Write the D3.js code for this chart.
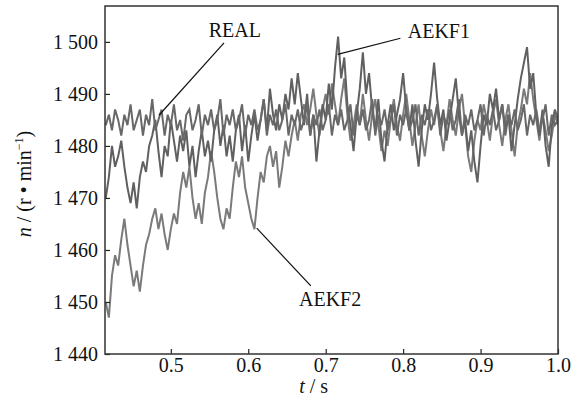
<!DOCTYPE html>
<html>
<head>
<meta charset="utf-8">
<script src="https://cdn.jsdelivr.net/npm/d3@7"></script>
<style>
body { margin: 0; background: #fff; }
text { font-family: "Liberation Serif", "Times New Roman", serif; }
</style>
</head>
<body>
<svg id="chart"></svg>
<script>
// sampling: t from 0.416 to 1.0, every 0.004 s
var tStart = 0.416, tStep = 0.004;

var real = [
	1484, 1486, 1483, 1487, 1485, 1482, 1486, 1484, 1488, 1483,
	1485, 1487, 1482, 1486, 1484, 1489, 1483, 1485, 1487, 1482,
	1486, 1484, 1488, 1483, 1485, 1481, 1486, 1487, 1483, 1485,
	1488, 1482, 1486, 1484, 1487, 1483, 1485, 1489, 1482, 1486,
	1484, 1487, 1483, 1485, 1488, 1482, 1486, 1484, 1487, 1483,
	1485, 1489, 1482, 1486, 1484, 1487, 1483, 1485, 1488, 1482,
	1486, 1484, 1487, 1483, 1485, 1488, 1482, 1486, 1484, 1487,
	1483, 1485, 1488, 1482, 1486, 1484, 1487, 1483, 1485, 1488,
	1482, 1486, 1484, 1487, 1483, 1485, 1489, 1482, 1486, 1484,
	1487, 1483, 1485, 1488, 1482, 1486, 1484, 1487, 1483, 1485,
	1488, 1482, 1486, 1484, 1487, 1483, 1485, 1488, 1482, 1486,
	1484, 1487, 1483, 1485, 1489, 1482, 1486, 1484, 1487, 1483,
	1485, 1488, 1482, 1486, 1484, 1487, 1483, 1485, 1488, 1482,
	1486, 1484, 1487, 1483, 1485, 1488, 1482, 1486, 1484, 1487,
	1483, 1485, 1488, 1482, 1486, 1484, 1485
];

var aekf1 = [
	1470, 1474, 1480, 1476, 1478, 1481, 1476, 1472, 1469, 1473,
	1468, 1474, 1477, 1475, 1480, 1482, 1485, 1479, 1474, 1480,
	1478, 1485, 1481, 1477, 1482, 1479, 1483, 1476, 1480, 1474,
	1479, 1483, 1478, 1481, 1477, 1483, 1486, 1480, 1484, 1478,
	1482, 1477, 1483, 1486, 1479, 1484, 1477, 1482, 1486, 1481,
	1485, 1489, 1483, 1491, 1486, 1483, 1488, 1485, 1490, 1487,
	1493, 1488, 1494, 1489, 1484, 1490, 1482, 1486, 1477, 1483,
	1488, 1485, 1492, 1487, 1495, 1501, 1493, 1497, 1488, 1484,
	1479, 1486, 1491, 1498, 1490, 1494, 1487, 1483, 1489, 1481,
	1477, 1484, 1488, 1483, 1486, 1489, 1494, 1487, 1483, 1488,
	1481, 1476, 1483, 1488, 1485, 1490, 1496, 1489, 1484, 1487,
	1481, 1485, 1489, 1493, 1486, 1482, 1485, 1479, 1483, 1477,
	1473, 1480, 1486, 1484, 1490, 1487, 1491, 1485, 1488, 1483,
	1486, 1479, 1484, 1489, 1493, 1496, 1499, 1491, 1494, 1486,
	1482, 1487, 1480, 1476, 1484, 1487, 1485
];

var aekf2 = [
	1450, 1447, 1455, 1459, 1457, 1462, 1466, 1461, 1457, 1453,
	1456, 1452, 1457, 1461, 1463, 1466, 1468, 1464, 1467, 1463,
	1460, 1464, 1467, 1465, 1471, 1475, 1472, 1476, 1470, 1466,
	1469, 1465, 1471, 1474, 1479, 1475, 1470, 1466, 1464, 1468,
	1466, 1472, 1477, 1474, 1478, 1472, 1469, 1466, 1464, 1470,
	1475, 1473, 1478, 1480, 1476, 1479, 1472, 1476, 1481, 1478,
	1482, 1485, 1481, 1486, 1488, 1484, 1487, 1491, 1486, 1482,
	1487, 1490, 1486, 1492, 1488, 1484, 1489, 1493, 1486, 1481,
	1484, 1488, 1484, 1490, 1485, 1481, 1486, 1489, 1484, 1479,
	1483, 1480, 1485, 1489, 1484, 1481, 1486, 1490, 1485, 1480,
	1484, 1488, 1482, 1478, 1483, 1487, 1484, 1488, 1483, 1479,
	1484, 1489, 1485, 1482, 1487, 1490, 1484, 1478, 1475, 1481,
	1485, 1483, 1488, 1485, 1481, 1486, 1489, 1484, 1480, 1485,
	1488, 1483, 1478, 1484, 1487, 1491, 1488, 1494, 1489, 1485,
	1481, 1486, 1483, 1479, 1482, 1486, 1484
];

var xTicks = [0.5, 0.6, 0.7, 0.8, 0.9, 1.0];
var yTicks = [1440, 1450, 1460, 1470, 1480, 1490, 1500];

// annotation: label, text position, leader line [t1,n1,t2,n2]
var notes = [
	{ name: 'REAL',  t: 0.549, n: 1500.9, line: [0.4847, 1485.9, 0.5687, 1499.8] },
	{ name: 'AEKF1', t: 0.806, n: 1500.7, line: [0.7155, 1497.6, 0.7965, 1500.7] },
	{ name: 'AEKF2', t: 0.6655, n: 1449.2, line: [0.6109, 1464.2, 0.6808, 1453.1] }
];

var dims = {
	width: 574,
	height: 403,
	left: 105,
	top: 6,
	right: 16,
	bottom: 49,
	font: '20px'
};
dims.plotW = dims.width - dims.left - dims.right;
dims.plotH = dims.height - dims.top - dims.bottom;

var svg = d3.select('#chart')
	.attr('width', dims.width)
	.attr('height', dims.height);

var g = svg.append('g')
	.attr('transform', 'translate(' + dims.left + ',' + dims.top + ')');

var x = d3.scaleLinear().domain([0.415, 1.0]).range([0, dims.plotW]);
var y = d3.scaleLinear().domain([1440, 1506.9]).range([dims.plotH, 0]);

var loc = d3.formatLocale({ decimal: '.', thousands: ' ', grouping: [3], currency: ['', ''] });
var yFmt = loc.format(',d');

g.append('clipPath').attr('id', 'clip')
	.append('rect').attr('width', dims.plotW).attr('height', dims.plotH);

var line = d3.line()
	.x((d, i) => x(tStart + i * tStep))
	.y(d => y(d));

var series = [
	{ key: 'aekf2', values: aekf2, color: '#7a7a7a' },
	{ key: 'aekf1', values: aekf1, color: '#606060' },
	{ key: 'real', values: real, color: '#686868' }
];

g.append('g').attr('clip-path', 'url(#clip)')
	.selectAll('path')
	.data(series)
	.enter()
	.append('path')
		.attr('d', d => line(d.values))
		.attr('fill', 'none')
		.attr('stroke', d => d.color)
		.attr('stroke-width', 2);

// axes, ticks inward
var xAxis = d3.axisBottom(x).tickValues(xTicks).tickFormat(d3.format('.1f'))
	.tickSizeInner(-5).tickSizeOuter(0).tickPadding(4);
var yAxis = d3.axisLeft(y).tickValues(yTicks).tickFormat(yFmt)
	.tickSizeInner(-5).tickSizeOuter(0).tickPadding(7);

var gx = g.append('g').attr('transform', 'translate(0,' + dims.plotH + ')').call(xAxis);
var gy = g.append('g').call(yAxis);
[gx, gy].forEach(function(a) {
	a.select('.domain').remove();
	a.attr('font-family', null).attr('font-size', null);
	a.selectAll('line').attr('stroke', '#222').attr('stroke-width', 1.2);
	a.selectAll('text').attr('fill', '#111').style('font-size', dims.font);
});

g.append('rect')
	.attr('width', dims.plotW)
	.attr('height', dims.plotH)
	.attr('fill', 'none')
	.attr('stroke', '#333')
	.attr('stroke-width', 1.5);

// annotations
notes.forEach(function(a) {
	g.append('line')
		.attr('x1', x(a.line[0])).attr('y1', y(a.line[1]))
		.attr('x2', x(a.line[2])).attr('y2', y(a.line[3]))
		.attr('stroke', '#111')
		.attr('stroke-width', 1.2);
	g.append('text')
		.attr('x', x(a.t))
		.attr('y', y(a.n))
		.attr('fill', '#111')
		.style('font-size', dims.font)
		.text(a.name);
});

// axis titles
var xt = svg.append('text')
	.attr('x', dims.left + x(0.6845))
	.attr('y', 393)
	.attr('text-anchor', 'middle')
	.attr('fill', '#111')
	.style('font-size', dims.font);
xt.append('tspan').style('font-style', 'italic').text('t');
xt.append('tspan').text(' / s');

var yt = svg.append('text')
	.attr('transform', 'translate(31,184) rotate(-90)')
	.attr('text-anchor', 'middle')
	.attr('fill', '#111')
	.style('font-size', dims.font);
yt.append('tspan').style('font-style', 'italic').text('n');
yt.append('tspan').text(' / (r • min');
yt.append('tspan').attr('dy', -8).style('font-size', '12px').text('−1');
yt.append('tspan').attr('dy', 8).text(')');
</script>
</body>
</html>
